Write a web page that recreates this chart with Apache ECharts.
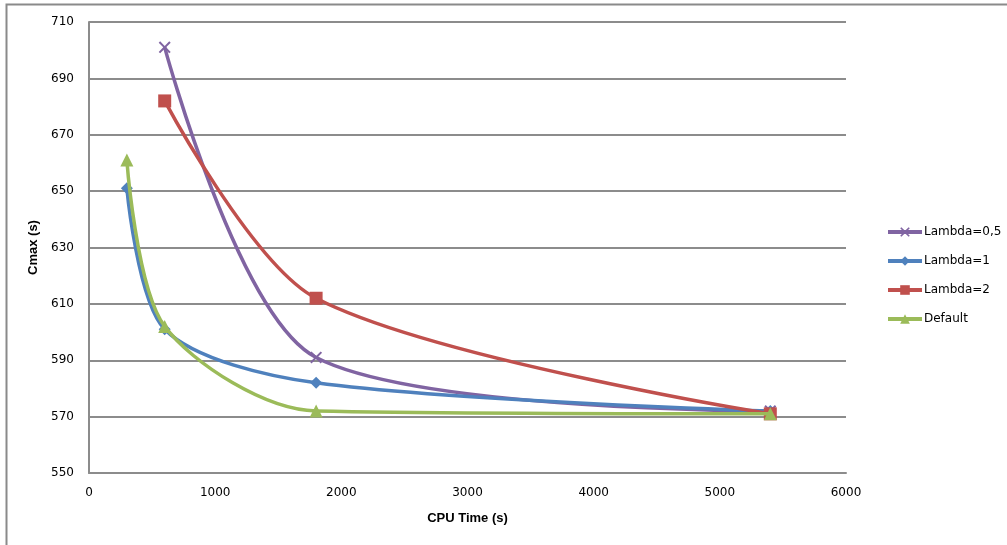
<!DOCTYPE html>
<html>
<head>
<meta charset="utf-8">
<script src="https://cdn.jsdelivr.net/npm/echarts@6/dist/echarts.min.js"></script>
<style>
  html, body { margin: 0; padding: 0; background: #fff; }
  #chart { width: 1007px; height: 545px; }
</style>
</head>
<body>
<div id="chart"></div>
<script>
// CPU time budgets (s) and resulting makespan Cmax (s) per configuration
const lambda05X = [600, 1800, 5400];
const lambda05Y = [701, 591, 572];
const lambda1X = [300, 600, 1800, 5400];
const lambda1Y = [651, 601, 582, 572];
const lambda2X = [600, 1800, 5400];
const lambda2Y = [682, 612, 571];
const defaultX = [300, 600, 1800, 5400];
const defaultY = [661, 602, 572, 571];

const seriesNames = ['Lambda=0,5', 'Lambda=1', 'Lambda=2', 'Default'];
const seriesColors = ['#8064A2', '#4F81BD', '#C0504D', '#9BBB59'];

const crossPath = 'path://M0,1.2 L1.2,0 L5,3.8 L8.8,0 L10,1.2 L6.2,5 L10,8.8 L8.8,10 L5,6.2 L1.2,10 L0,8.8 L3.8,5 Z';
const symbols = [crossPath, 'diamond', 'rect', 'triangle'];
const symbolSizes = [12, 12, 13, 13];

function pairs(xs, ys) {
  return xs.map((x, i) => [x, ys[i]]);
}
const seriesData = [
  pairs(lambda05X, lambda05Y),
  pairs(lambda1X, lambda1Y),
  pairs(lambda2X, lambda2Y),
  pairs(defaultX, defaultY)
];

const labelFont = '"DejaVu Sans", sans-serif';
const titleFont = '"Liberation Sans", Arial, sans-serif';
const gridColor = '#8c8c8c';

const chart = echarts.init(document.getElementById('chart'), null, { renderer: 'canvas' });

chart.setOption({
  animation: false,
  backgroundColor: '#fff',
  graphic: [{
    type: 'rect',
    shape: { x: 6.5, y: 4.5, width: 1010, height: 560 },
    style: { fill: 'none', stroke: '#8a8a8a', lineWidth: 2 },
    silent: true
  }],
  grid: { left: 89, right: 161, top: 22, bottom: 72 },
  legend: {
    orient: 'vertical',
    left: 886,
    top: 226,
    padding: 0,
    itemWidth: 34,
    itemHeight: 12,
    itemGap: 17,
    lineStyle: { width: 4 },
    textStyle: { fontFamily: labelFont, fontSize: 12, color: '#000', padding: [0, 0, 0, -3] },
    data: seriesNames
  },
  xAxis: {
    type: 'value',
    min: 0,
    max: 6000,
    interval: 1000,
    name: 'CPU Time (s)',
    nameLocation: 'middle',
    nameGap: 39,
    nameTextStyle: { fontFamily: titleFont, fontSize: 13, fontWeight: 'bold', color: '#000' },
    axisLine: { show: true, lineStyle: { color: gridColor, width: 2 } },
    axisTick: { show: false },
    axisLabel: {
      fontFamily: labelFont, fontSize: 12, color: '#000', margin: 14,
      formatter: v => String(v)
    },
    splitLine: { show: false }
  },
  yAxis: {
    type: 'value',
    min: 550,
    max: 710,
    interval: 20,
    name: 'Cmax (s)',
    nameLocation: 'middle',
    nameRotate: 90,
    nameGap: 44,
    nameTextStyle: { fontFamily: titleFont, fontSize: 13, fontWeight: 'bold', color: '#000' },
    axisLine: { show: true, lineStyle: { color: gridColor, width: 2 } },
    axisTick: { show: false },
    axisLabel: { fontFamily: labelFont, fontSize: 12, color: '#000', margin: 15 },
    splitLine: { show: true, lineStyle: { color: gridColor, width: 2 } }
  },
  series: seriesNames.map((name, i) => ({
    name: name,
    type: 'line',
    data: seriesData[i],
    smooth: 0.3,
    symbol: symbols[i],
    symbolSize: symbolSizes[i],
    showAllSymbol: true,
    color: seriesColors[i],
    lineStyle: { width: 3.5, color: seriesColors[i] },
    itemStyle: { color: seriesColors[i], borderWidth: 0 },
    z: 2 + i
  }))
});
</script>
</body>
</html>
